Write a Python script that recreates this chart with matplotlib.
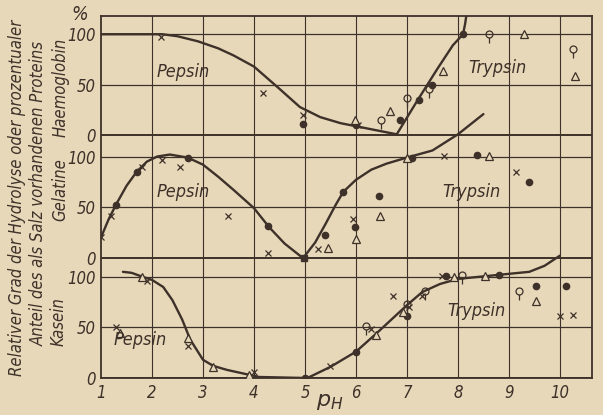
import matplotlib
matplotlib.use('Agg')
import matplotlib.pyplot as plt
from matplotlib.path import Path

# paper / ink colours of the scan
PAPER = '#e7d8ba'
INK = '#3d3129'

# vertical offsets of the three stacked panels (in % units)
GEL = 119
HAEM = 240
YTOP = 358

# ---- Haemoglobin ----
haem_pep_ph = [1.0, 2.2, 2.5, 2.9, 3.3, 3.6, 4.0, 4.25, 4.5, 4.9, 5.3, 5.7, 6.0, 6.3, 6.6, 6.8]
haem_pep_val = [100, 100, 98, 93, 86, 79, 68, 57, 46, 28, 18, 12, 9, 6, 3, 1]
haem_try_ph = [6.8, 7.2, 7.6, 7.9, 8.1, 8.14, 8.17]
haem_try_val = [1, 34, 66, 89, 100, 110, 120]
haem_x_ph = [2.18, 4.18, 4.96, 6.05]
haem_x_val = [97, 42, 20, 10]
haem_dot_ph = [4.96, 6.0, 6.86, 7.24, 7.49, 8.1]
haem_dot_val = [11, 10, 15, 35, 50, 100]
haem_tri_ph = [5.98, 6.67, 7.7, 9.3, 10.3]
haem_tri_val = [15, 24, 64, 100, 59]
haem_lol_ph = [6.49, 7.0, 7.43, 8.6, 10.25]
haem_lol_val = [15, 37, 46, 100, 85]

# ---- Gelatine ----
gel_pep_ph = [1.0, 1.15, 1.3, 1.5, 1.7, 1.9, 2.1, 2.35, 2.7, 3.0, 3.3, 3.6, 4.0, 4.3, 4.6, 4.95]
gel_pep_val = [20, 38, 53, 71, 85, 95, 100, 102, 99, 92, 80, 67, 49, 30, 14, 0]
gel_try_ph = [4.97, 5.2, 5.4, 5.6, 5.75, 6.0, 6.3, 6.6, 7.0, 7.5, 8.0, 8.5]
gel_try_val = [0, 15, 33, 52, 65, 77, 87, 93, 99, 106, 122, 142]
gel_x_ph = [1.0, 1.2, 1.8, 2.2, 2.55, 3.49, 4.27, 5.25, 5.94, 7.73, 9.14]
gel_x_val = [20, 41, 90, 97, 90, 41, 5, 9, 38, 101, 85]
gel_dot_ph = [1.29, 1.7, 2.7, 4.27, 5.4, 5.74, 5.98, 6.45, 7.1, 8.37, 9.39]
gel_dot_val = [52, 85, 99, 31, 22, 65, 30, 61, 99, 102, 75]
gel_sq_ph = [4.98]
gel_sq_val = [0]
gel_tri_ph = [5.45, 6.0, 6.47, 7.0, 8.6]
gel_tri_val = [10, 18, 41, 99, 101]

# ---- Kasein ----
kas_pep_ph = [1.43, 1.6, 1.82, 2.0, 2.22, 2.4, 2.59, 2.75, 3.0, 3.2, 3.47, 3.92, 4.1, 5.0]
kas_pep_val = [105, 104, 100, 97, 90, 77, 58, 38, 18, 12, 8, 3, 1, 0]
kas_try_ph = [5.05, 5.5, 6.0, 6.4, 7.0, 7.3, 7.65, 8.0, 8.8, 9.4, 9.7, 10.0]
kas_try_val = [0, 11, 26, 44, 72, 85, 93, 98, 102, 105, 111, 121]
kas_x_ph = [1.3, 1.9, 2.7, 4.0, 5.5, 6.3, 6.73, 7.05, 7.3, 7.68, 10.0, 10.25]
kas_x_val = [50, 96, 32, 6, 12, 48, 81, 70, 81, 101, 61, 62]
kas_dot_ph = [5.0, 6.0, 7.0, 7.77, 8.8, 9.53, 10.12]
kas_dot_val = [0, 26, 61, 101, 102, 91, 91]
kas_tri_ph = [1.37, 1.8, 2.7, 3.2, 3.9, 6.4, 6.93, 7.92, 8.54, 9.53]
kas_tri_val = [44, 100, 40, 11, 3, 43, 65, 100, 101, 76]
kas_lol_ph = [6.2, 7.0, 7.35, 8.08, 9.2]
kas_lol_val = [51, 73, 86, 102, 86]

ph_ticks = [1, 2, 3, 4, 5, 6, 7, 8, 9, 10]
pct_ticks = [0, 50, 100]

FONT = ['DejaVu Sans']
STRETCH = 'condensed'


def shift(vals, off):
    return [v + off for v in vals]


def lollipop():
    circ = Path.circle((0, 0), 1.0)
    stem = Path([(0, -1.0), (0, -2.6)], [Path.MOVETO, Path.LINETO])
    return Path.make_compound_path(circ, stem)


def main():
    fig = plt.figure(figsize=(6.03, 4.15), dpi=100, facecolor=PAPER)
    ax = fig.add_axes([0.1675, 0.0892, 0.8143, 0.8722])
    ax.set_facecolor(PAPER)
    ax.set_xlim(1, 10.63)
    ax.set_ylim(0, YTOP)

    # grid
    for p in ph_ticks[1:]:
        ax.axvline(p, color=INK, lw=0.8, zorder=1)
    for off in (0, GEL, HAEM):
        for v in pct_ticks:
            lw = 1.4 if v == 0 else 0.9
            ax.axhline(off + v, color=INK, lw=lw, zorder=1)
    for s in ax.spines.values():
        s.set_color(INK)
        s.set_linewidth(1.3)

    # curves
    curve = dict(color=INK, lw=1.7, zorder=3, solid_capstyle='round')
    ax.plot(haem_pep_ph, shift(haem_pep_val, HAEM), **curve)
    ax.plot(haem_try_ph, shift(haem_try_val, HAEM), **curve)
    ax.plot(gel_pep_ph, shift(gel_pep_val, GEL), **curve)
    ax.plot(gel_try_ph, shift(gel_try_val, GEL), **curve)
    ax.plot(kas_pep_ph, kas_pep_val, **curve)
    ax.plot(kas_try_ph, kas_try_val, **curve)

    # markers
    mk_x = dict(ls='none', marker='x', ms=5, mew=0.9, color=INK, zorder=4)
    mk_dot = dict(ls='none', marker='o', ms=4.5, color=INK, zorder=4)
    mk_tri = dict(ls='none', marker='^', ms=5.5, mew=0.9, mfc=PAPER, mec=INK, zorder=4)
    mk_lol = dict(ls='none', marker=lollipop(), ms=13, mew=0.9, mfc='none', mec=INK, zorder=4)
    mk_sq = dict(ls='none', marker='s', ms=4.5, color=INK, zorder=4)

    ax.plot(haem_x_ph, shift(haem_x_val, HAEM), **mk_x)
    ax.plot(haem_dot_ph, shift(haem_dot_val, HAEM), **mk_dot)
    ax.plot(haem_tri_ph, shift(haem_tri_val, HAEM), **mk_tri)
    ax.plot(haem_lol_ph, shift(haem_lol_val, HAEM), **mk_lol)

    ax.plot(gel_x_ph, shift(gel_x_val, GEL), **mk_x)
    ax.plot(gel_dot_ph, shift(gel_dot_val, GEL), **mk_dot)
    ax.plot(gel_tri_ph, shift(gel_tri_val, GEL), **mk_tri)
    ax.plot(gel_sq_ph, shift(gel_sq_val, GEL), **mk_sq)

    ax.plot(kas_x_ph, kas_x_val, **mk_x)
    ax.plot(kas_dot_ph, kas_dot_val, **mk_dot)
    ax.plot(kas_tri_ph, kas_tri_val, **mk_tri)
    ax.plot(kas_lol_ph, kas_lol_val, **mk_lol)

    # enzyme labels
    lab = dict(family=FONT, stretch=STRETCH, style='italic', fontsize=13, color=INK,
               ha='center', va='center', zorder=5)
    ax.text(2.61, HAEM + 63, 'Pepsin', **lab)
    ax.text(8.78, HAEM + 67, 'Trypsin', **lab)
    ax.text(2.61, GEL + 65, 'Pepsin', **lab)
    ax.text(8.27, GEL + 65, 'Trypsin', **lab)
    ax.text(1.76, 38, 'Pepsin', **lab)
    ax.text(8.37, 66, 'Trypsin', **lab)

    # ticks
    yt = []
    ylab = []
    for off in (0, GEL, HAEM):
        for v in pct_ticks:
            yt.append(off + v)
            ylab.append(str(v))
    ax.set_yticks(yt)
    ax.set_yticklabels(ylab)
    ax.set_xticks(ph_ticks)
    ax.set_xticklabels([str(p) for p in ph_ticks])
    ax.tick_params(length=0, colors=INK, labelsize=12, pad=4)
    for t in ax.get_xticklabels() + ax.get_yticklabels():
        t.set_family(FONT)
        t.set_stretch(STRETCH)
        t.set_style('italic')

    fig.text(330 / 603, 1 - 402 / 415, r'$p_H$', fontsize=16, color=INK,
             ha='center', va='center')

    txt = dict(family=FONT, stretch=STRETCH, style='italic', color=INK,
               ha='center', va='center')
    fig.text(80 / 603, 1 - 15 / 415, '%', fontsize=14, **txt)
    txt['rotation'] = 90
    fig.text(17 / 603, 1 - 198 / 415,
             'Relativer Grad der Hydrolyse oder prozentualer', fontsize=12, **txt)
    fig.text(39 / 603, 1 - 193 / 415,
             'Anteil des als Salz vorhandenen Proteins', fontsize=12, **txt)
    fig.text(61 / 603, 1 - 87 / 415, 'Haemoglobin', fontsize=12, **txt)
    fig.text(60 / 603, 1 - 190 / 415, 'Gelatine', fontsize=12, **txt)
    fig.text(59 / 603, 1 - 322 / 415, 'Kasein', fontsize=12, **txt)

    fig.savefig('out.png', dpi=100, facecolor=PAPER)


if __name__ == "__main__":
    main()
